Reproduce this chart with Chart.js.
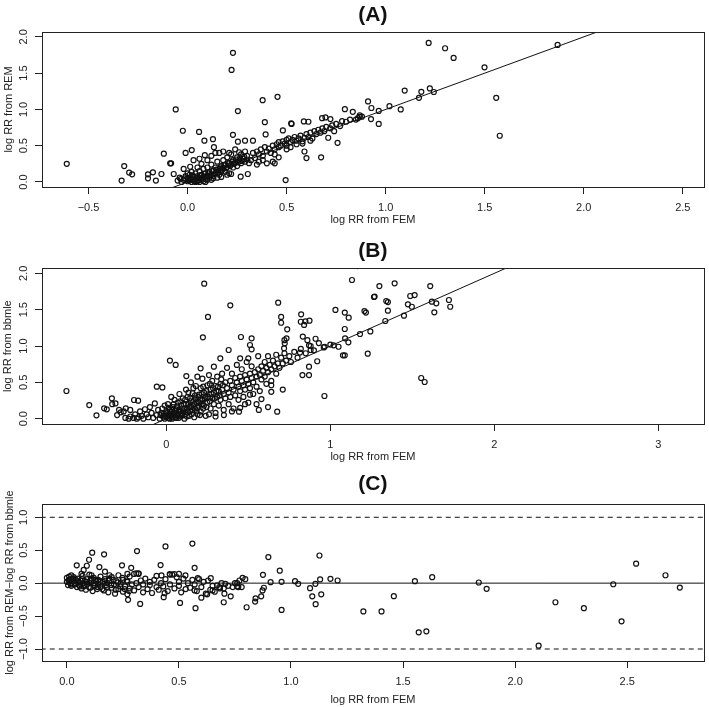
<!DOCTYPE html>
<html>
<head>
<meta charset="utf-8">
<title>log RR comparison</title>
<script src="https://cdn.jsdelivr.net/npm/chart.js@4.4.1/dist/chart.umd.min.js"></script>
<style>
  body { margin: 0; background: #fff; }
  #wrap { position: relative; width: 709px; height: 707px; }
  canvas { position: absolute; left: 0; }
</style>
</head>
<body>
<div id="wrap">
  <canvas id="chartA" width="709" height="236" style="top:0px"></canvas>
  <canvas id="chartB" width="709" height="235" style="top:236px"></canvas>
  <canvas id="chartC" width="709" height="236" style="top:471px"></canvas>
</div>
<script>
// ── data ──────────────────────────────────────────────────────────────────
// [log RR from FEM, log RR from REM]
const femVsRem = [
  [-0.61,0.25],[-0.32,0.22],[-0.333,0.02],[-0.295,0.13],[-0.28,0.105],[-0.20,0.105],[-0.20,0.05],
  [-0.175,0.133],[-0.16,0.02],[-0.132,0.11],[-0.12,0.39],[-0.088,0.257],[-0.083,0.257],[-0.06,1.0],
  [-0.07,0.11],[-0.024,0.706],[-0.01,0.40],[0.021,0.44],[0.013,0.21],[0.058,0.69],[0.085,0.57],
  [0.128,0.59],[0.087,0.37],[0.133,0.48],[0.229,1.78],[0.222,1.545],[0.254,0.977],[0.229,0.65],
  [0.379,1.128],[0.454,1.174],[0.39,0.825],[0.394,0.656],[0.268,0.073],[0.304,0.11],[0.29,0.57],
  [0.33,0.57],[0.254,0.555],[0.495,0.027],[0.523,0.807],[0.525,0.80],[0.587,0.835],[0.61,0.83],
  [0.59,0.42],[0.60,0.33],[0.481,0.71],[0.674,0.34],[0.679,0.88],[0.696,0.89],[0.721,0.867],
  [0.794,1.004],[0.834,0.967],[0.757,0.54],[0.74,0.70],[0.71,0.61],[0.40,0.257],[0.44,0.257],
  [1.217,1.916],[1.30,1.843],[1.343,1.71],[1.499,1.58],[1.868,1.889],[1.558,1.16],[1.576,0.637],
  [1.096,1.26],[1.18,1.243],[1.223,1.29],[1.243,1.24],[1.168,1.16],[1.076,1.0],[1.019,1.045],
  [0.965,0.98],[0.911,1.11],[0.928,1.02],[0.926,0.867],[0.965,0.80],[0.869,0.92],[0.869,0.90],
  [0.86,0.88],
  [0.30,0.36],[0.32,0.30],[0.33,0.40],[0.34,0.33],[0.35,0.42],[0.36,0.38],[0.37,0.45],[0.38,0.36],
  [0.39,0.48],[0.40,0.42],[0.41,0.46],[0.42,0.40],[0.43,0.50],[0.44,0.45],[0.45,0.52],[0.46,0.48],
  [0.46,0.55],[0.47,0.50],[0.48,0.56],[0.49,0.53],[0.50,0.58],[0.50,0.50],[0.51,0.60],[0.52,0.55],
  [0.53,0.58],[0.54,0.62],[0.55,0.57],[0.56,0.60],[0.57,0.64],[0.58,0.56],[0.59,0.61],[0.60,0.66],
  [0.61,0.62],[0.62,0.68],[0.63,0.60],[0.64,0.70],[0.65,0.66],[0.66,0.72],[0.67,0.68],[0.68,0.74],
  [0.69,0.70],[0.70,0.76],[0.72,0.74],[0.73,0.78],[0.75,0.80],[0.77,0.77],[0.78,0.84],[0.80,0.83],
  [0.82,0.86],[0.85,0.86],[0.88,0.90],[0.43,0.28],[0.46,0.34],[0.50,0.45],[0.52,0.48],[0.55,0.52],
  [0.58,0.53],[0.62,0.57],[0.44,0.38],[0.38,0.30],[0.36,0.28],[0.35,0.24],[0.31,0.26],
  [-0.05,0.02],[-0.04,0.06],[-0.03,0.0],[-0.02,0.03],[-0.01,0.08],[0.0,0.01],[0.0,0.05],[0.01,0.02],
  [0.01,0.10],[0.02,0.04],[0.02,0.0],[0.03,0.07],[0.03,0.02],[0.04,0.12],[0.04,0.04],[0.05,0.01],
  [0.05,0.08],[0.06,0.05],[0.06,0.15],[0.07,0.03],[0.07,0.10],[0.08,0.07],[0.08,0.18],[0.09,0.04],
  [0.09,0.12],[0.10,0.08],[0.10,0.20],[0.11,0.06],[0.11,0.14],[0.12,0.10],[0.12,0.24],[0.13,0.16],
  [0.13,0.08],[0.14,0.12],[0.14,0.20],[0.15,0.14],[0.15,0.28],[0.16,0.18],[0.16,0.10],[0.17,0.22],
  [0.17,0.15],[0.18,0.19],[0.18,0.30],[0.19,0.24],[0.19,0.14],[0.20,0.21],[0.20,0.34],[0.21,0.26],
  [0.21,0.12],[0.22,0.24],[0.22,0.38],[0.23,0.30],[0.23,0.20],[0.24,0.27],[0.25,0.34],[0.25,0.22],
  [0.26,0.30],[0.27,0.38],[0.27,0.26],[0.28,0.32],[0.29,0.42],[0.29,0.28],[0.30,0.31],[0.02,0.14],
  [0.05,0.20],[0.07,0.25],[0.10,0.30],[0.12,0.36],[0.16,0.40],[0.18,0.42],[0.20,0.10],[0.22,0.11],
  [0.09,0.0],[0.12,0.03],[0.15,0.06],[0.03,0.30],[0.06,0.32],[-0.02,0.18],[0.14,0.40],[0.17,0.07],
  [0.08,0.01],[0.0,0.12],[0.26,0.41],[0.24,0.45],[0.21,0.40],
  [0.015,0.06],[0.025,0.09],[0.035,0.01],[0.045,0.06],[0.055,0.03],[0.065,0.09],[0.075,0.06],
  [0.085,0.11],[0.095,0.08],[0.105,0.12],[0.115,0.09],[0.125,0.15],[0.135,0.11],[0.145,0.17],
  [0.155,0.13],[0.165,0.2],[0.175,0.17],[0.185,0.23],[0.195,0.19],[0.205,0.26],[0.215,0.22],
  [0.225,0.28],[0.235,0.25],[0.245,0.31],[0.255,0.27],[0.265,0.33],[0.275,0.29],[0.285,0.35],
  [0.04,0.0],[0.06,0.0],[0.1,0.03],[0.13,0.05],[-0.035,0.04],[-0.015,0.05],[0.005,0.03]
];

// [log RR from FEM, log RR from bbmle]
const femVsBbmle = [
  [-0.609,0.381],[-0.47,0.188],[-0.426,0.047],[-0.379,0.143],[-0.363,0.129],[-0.332,0.28],[-0.33,0.20],
  [-0.31,0.21],[-0.288,0.12],[-0.278,0.088],[-0.247,0.143],[-0.197,0.257],[-0.172,0.248],[-0.058,0.44],
  [-0.024,0.43],[0.022,0.80],[0.057,0.74],[0.231,1.857],[0.39,1.56],[0.254,1.40],[0.223,1.12],
  [0.455,1.124],[0.52,1.106],[0.51,1.014],[0.52,0.955],[0.38,0.945],[0.329,0.83],[0.45,0.83],
  [0.50,0.83],[0.29,0.715],[0.209,0.693],[0.189,0.578],[0.122,0.587],[0.682,1.596],[0.70,1.40],
  [0.70,1.32],[0.737,1.23],[0.722,1.037],[0.72,1.08],[0.822,1.436],[0.82,1.334],[0.848,1.34],
  [0.873,1.348],[0.676,0.097],[0.964,0.312],[1.031,1.496],[1.088,1.46],[1.112,1.39],[1.132,1.908],
  [1.077,0.872],[1.088,0.872],[1.088,1.234],[1.05,0.99],[0.87,0.715],[0.87,0.60],[0.83,0.60],
  [0.91,1.10],[0.733,1.105],[0.718,0.968],[0.84,1.29],[0.832,1.13],[0.86,1.08],[0.87,1.01],
  [0.815,0.91],[0.88,0.945],[0.92,0.79],[0.965,0.99],[1.02,1.01],[1.09,1.105],[1.11,1.05],
  [1.299,1.825],[1.392,1.862],[1.609,1.825],[1.266,1.674],[1.27,1.68],[1.341,1.619],[1.351,1.605],
  [1.351,1.486],[1.487,1.688],[1.514,1.70],[1.473,1.573],[1.497,1.54],[1.619,1.61],[1.646,1.587],
  [1.634,1.463],[1.723,1.633],[1.731,1.54],[1.208,1.48],[1.217,1.46],[1.449,1.417],[1.335,1.344],
  [1.244,1.20],[1.181,1.165],[1.228,0.894],[1.554,0.56],[1.575,0.505],[1.165,2.1],
  [-0.25,0.01],[-0.23,0.0],[-0.22,0.03],[-0.2,0.01],[-0.19,0.06],[-0.18,0.0],[-0.17,0.02],[-0.16,0.1],
  [-0.15,0.04],[-0.14,0.0],[-0.13,0.13],[-0.12,0.06],[-0.11,0.02],[-0.1,0.16],[-0.09,0.08],[-0.08,0.01],
  [-0.07,0.21],[-0.06,0.05],[-0.05,0.12],[-0.04,0.0],[-0.03,0.08],[-0.02,0.03],[-0.01,0.18],[-0.01,0.0],
  [-0.22,0.12],[-0.26,0.1],[-0.3,0.05],
  [0.0,0.02],[0.0,0.1],[0.01,0.05],[0.01,0.2],[0.02,0.0],[0.02,0.12],[0.03,0.06],[0.03,0.3],
  [0.04,0.02],[0.04,0.16],[0.05,0.08],[0.05,0.26],[0.06,0.01],[0.06,0.13],[0.07,0.05],[0.07,0.22],
  [0.08,0.1],[0.08,0.34],[0.09,0.03],[0.09,0.18],[0.1,0.07],[0.1,0.28],[0.11,0.14],[0.11,0.0],
  [0.12,0.2],[0.12,0.4],[0.13,0.09],[0.13,0.3],[0.14,0.16],[0.14,0.04],[0.15,0.24],[0.15,0.5],
  [0.16,0.12],[0.16,0.35],[0.17,0.2],[0.17,0.02],[0.18,0.28],[0.18,0.45],[0.19,0.15],[0.19,0.06],
  [0.2,0.33],[0.2,0.22],[0.21,0.1],[0.21,0.42],[0.22,0.27],[0.22,0.55],[0.23,0.18],[0.23,0.36],
  [0.24,0.04],[0.24,0.3],[0.25,0.46],[0.25,0.22],[0.26,0.34],[0.26,0.6],[0.27,0.14],[0.27,0.4],
  [0.28,0.28],[0.28,0.52],[0.29,0.2],[0.29,0.36],[0.3,0.45],[0.3,0.08],[0.31,0.3],[0.31,0.58],
  [0.32,0.38],[0.32,0.18],[0.33,0.48],[0.33,0.26],[0.34,0.4],[0.34,0.62],[0.35,0.34],[0.35,0.12],
  [0.36,0.5],[0.36,0.28],[0.37,0.42],[0.37,0.7],[0.38,0.36],[0.38,0.2],[0.39,0.52],[0.39,0.3],
  [0.4,0.46],[0.4,0.62],[0.41,0.4],[0.41,0.14],[0.42,0.56],[0.42,0.32],[0.43,0.5],[0.43,0.74],
  [0.44,0.44],[0.44,0.26],[0.45,0.58],[0.45,0.38],[0.46,0.52],[0.46,0.68],[0.47,0.46],[0.47,0.3],
  [0.48,0.6],[0.48,0.4],[0.49,0.54],[0.49,0.78],[0.5,0.48],[0.5,0.22],[0.51,0.62],[0.51,0.42],
  [0.52,0.56],[0.52,0.72],[0.53,0.5],[0.53,0.34],[0.54,0.64],[0.55,0.58],[0.55,0.44],[0.56,0.68],
  [0.56,0.86],[0.57,0.6],[0.57,0.38],[0.58,0.72],[0.58,0.54],[0.59,0.66],[0.6,0.58],[0.6,0.78],
  [0.61,0.7],[0.61,0.48],[0.62,0.64],[0.62,0.86],[0.63,0.74],[0.64,0.68],[0.64,0.52],[0.65,0.8],
  [0.66,0.72],[0.67,0.62],[0.67,0.88],[0.68,0.76],[0.69,0.7],[0.7,0.84],[0.71,0.76],[0.72,0.9],
  [0.73,0.8],[0.75,0.86],[0.76,0.78],[0.78,0.92],[0.8,0.84],[0.82,0.96],[0.85,0.9],[0.88,1.0],
  [0.9,0.94],[0.93,1.04],[0.96,0.98],[1.0,1.02],
  [0.564,0.12],[0.62,0.16],[0.443,0.097],[0.351,0.05],[0.30,0.03],[0.26,0.06],[0.55,0.2],[0.58,0.27],
  [0.51,0.33],[0.64,0.37],[0.71,0.40],[0.64,0.46],[0.45,0.15],[0.4,0.1],[0.48,0.2],
  [-0.035,0.05],[-0.025,0.14],[-0.015,0.07],[-0.005,0.04],[0.005,0.08],[0.015,0.01],[0.015,0.15],
  [0.025,0.04],[0.025,0.09],[0.035,0.12],[0.035,0.0],[0.045,0.05],[0.045,0.2],[0.055,0.11],
  [0.055,0.02],[0.065,0.07],[0.065,0.17],[0.075,0.12],[0.075,0.01],[0.085,0.06],[0.085,0.24],
  [0.095,0.14],[0.095,0.05],[0.105,0.1],[0.105,0.2],[0.115,0.06],[0.115,0.26],[0.125,0.12],
  [0.125,0.03],[0.135,0.2],[0.135,0.36],[0.145,0.1],[0.145,0.28],[0.155,0.16],[0.155,0.06],
  [0.165,0.24],[0.165,0.42],[0.175,0.14],[0.175,0.32],[0.185,0.22],[0.185,0.1],[0.195,0.3],
  [0.195,0.18],[0.205,0.26],[0.205,0.05],[0.215,0.34],[0.215,0.2],[0.225,0.14],[0.225,0.44],
  [0.235,0.28],[0.245,0.38],[0.245,0.16],[0.255,0.3],[0.265,0.24],[0.265,0.48],[0.275,0.34],
  [0.285,0.42],[0.295,0.28],[0.305,0.38],[0.315,0.44],[0.325,0.32],[0.335,0.54],[0.345,0.46]
];

// [log RR from FEM, log RR from REM − log RR from bbmle]
const femVsDiff = [
  [2.105,-0.95],[2.18,-0.29],[2.307,-0.38],[1.838,0.01],[1.873,-0.086],[1.63,0.09],[1.553,0.03],
  [1.57,-0.746],[1.604,-0.731],[1.459,-0.198],[1.404,-0.43],[1.323,-0.43],[1.208,0.04],[1.176,0.066],
  [1.127,0.42],[1.13,0.056],[1.135,-0.17],[1.11,-0.32],[1.095,-0.2],[1.109,-0.01],[1.085,-0.076],
  [1.032,-0.01],[1.018,0.03],[0.958,-0.406],[0.958,0.02],[0.95,0.19],[0.899,0.396],[0.909,0.015],
  [0.879,-0.07],[0.873,-0.11],[0.867,-0.2],[0.875,0.127],[0.842,-0.23],[0.84,-0.28],[0.802,-0.366],
  [0.796,0.06],[0.784,0.08],[0.76,0.0],[0.765,-0.06],[0.731,-0.2],[0.703,-0.16],[0.70,-0.29],
  [0.707,-0.01],[0.67,-0.035],[0.683,-0.08],[0.65,-0.11],[0.642,0.076],[0.626,-0.17],[0.6,-0.22],
  [0.584,0.076],[0.57,-0.11],[0.574,-0.38],[0.56,0.6],[0.57,0.233],[0.529,0.117],[0.505,-0.3],
  [0.5,0.14],[0.44,0.558],[0.436,-0.152],[0.418,0.274],[0.432,-0.213],[0.422,0.117],[0.459,0.137],
  [0.479,0.137],[0.327,-0.315],[0.313,0.487],[0.287,0.233],[0.273,-0.254],[0.246,0.27],[0.27,0.14],
  [0.31,0.15],[0.32,0.15],[0.166,0.437],[0.145,0.244],[0.113,0.462],[0.099,0.355],[0.089,0.264],
  [0.075,0.2],[0.065,0.14],[0.044,0.27],[0.02,0.117],[0.025,0.066],[0.17,0.175],[0.11,0.12],
  [0.19,0.12],[2.438,-0.017],[2.54,0.296],[2.475,-0.579],[2.671,0.12],[2.735,-0.068],
  [0.0,0.08],[0.0,0.02],[0.005,-0.03],[0.01,0.05],[0.01,0.1],[0.015,0.0],[0.02,0.06],[0.02,-0.04],
  [0.03,0.03],[0.03,0.09],[0.035,-0.02],[0.04,0.05],[0.045,-0.06],[0.05,0.01],[0.05,0.07],[0.055,-0.03],
  [0.06,0.04],[0.065,-0.08],[0.07,0.0],[0.07,0.11],[0.075,-0.05],[0.08,0.03],[0.085,-0.1],[0.09,0.06],
  [0.09,-0.02],[0.1,0.01],[0.1,0.13],[0.105,-0.07],[0.11,0.04],[0.115,-0.12],[0.12,0.0],[0.12,0.08],
  [0.125,-0.04],[0.13,0.03],[0.135,-0.09],[0.14,0.05],[0.14,-0.01],[0.15,0.1],[0.15,-0.06],[0.16,0.02],
  [0.165,-0.11],[0.17,0.06],[0.175,-0.03],[0.18,0.0],[0.185,-0.14],[0.19,0.04],[0.2,-0.07],[0.2,0.09],
  [0.21,-0.02],[0.215,-0.16],[0.22,0.03],[0.23,-0.09],[0.23,0.12],[0.24,-0.01],[0.25,-0.13],[0.25,0.05],
  [0.26,-0.05],[0.27,0.02],[0.27,-0.17],[0.28,-0.08],[0.28,0.1],[0.29,-0.02],[0.3,0.14],[0.3,-0.11],
  [0.31,0.0],[0.32,-0.06],[0.32,0.14],[0.33,0.04],[0.34,-0.14],[0.34,-0.02],[0.35,0.07],[0.36,-0.09],
  [0.37,-0.03],[0.37,0.02],[0.38,-0.15],[0.39,0.05],[0.4,-0.06],[0.4,0.11],[0.41,-0.1],[0.42,0.0],
  [0.43,-0.05],[0.44,0.06],[0.45,-0.12],[0.46,0.13],[0.46,-0.02],[0.47,0.13],[0.48,-0.08],[0.49,0.09],
  [0.5,-0.04],[0.5,0.02],[0.51,-0.14],[0.52,0.07],[0.53,-0.09],[0.54,0.0],[0.55,-0.07],[0.56,0.05],
  [0.57,-0.02],[0.58,-0.12],[0.59,0.06],[0.6,-0.06],[0.61,0.02],[0.62,-0.16],[0.63,0.04],[0.64,-0.1],
  [0.65,-0.04],[0.66,-0.13],[0.68,-0.06],[0.69,0.0],[0.7,-0.08],[0.72,-0.04],[0.74,-0.06],[0.75,0.0],
  [0.76,-0.05],[0.77,0.04],[0.78,-0.06],
  [0.008,0.04],[0.018,-0.02],[0.028,0.07],[0.038,0.0],[0.048,0.03],[0.058,-0.05],[0.068,0.06],
  [0.078,-0.03],[0.088,0.02],[0.098,-0.06],[0.108,0.07],[0.118,-0.03],[0.128,0.05],[0.138,-0.06],
  [0.148,0.02],[0.158,-0.09],[0.168,0.03],[0.178,-0.06],[0.188,0.07],[0.198,-0.03],[0.208,0.05],
  [0.218,-0.1],[0.228,0.01],[0.238,-0.05],[0.248,0.08],[0.258,-0.09],[0.268,0.04],[0.278,-0.12]
];

// reference lines: identity (A, B), zero and ±1 (C)
const identityLine = [[-1, -1], [3.5, 3.5]];
const zeroLine = [[-1, 0], [3.5, 0]];
const upperLimit = [[-1, 1], [3.5, 1]];
const lowerLimit = [[-1, -1], [3.5, -1]];

// tick values
const ticksAx = [-0.5, 0, 0.5, 1, 1.5, 2, 2.5];
const ticksAy = [0, 0.5, 1, 1.5, 2];
const ticksBx = [0, 1, 2, 3];
const ticksBy = [0, 0.5, 1, 1.5, 2];
const ticksCx = [0, 0.5, 1, 1.5, 2, 2.5];
const ticksCy = [-1, -0.5, 0, 0.5, 1];

// ── shared style ──────────────────────────────────────────────────────────
const FONT = '"Liberation Sans", Arial, Helvetica, sans-serif';
const INK = '#222';

const toXY = arr => arr.map(([x, y]) => ({ x, y }));

function fmt(v, dec) {
  const s = Math.abs(v).toFixed(dec);
  return v < 0 ? '\u2212' + s : s;
}

// R-style box round the plot region
const plotBox = {
  id: 'plotBox',
  afterDatasetsDraw(chart) {
    const { ctx, chartArea: a } = chart;
    ctx.save();
    ctx.strokeStyle = INK;
    ctx.lineWidth = 1;
    ctx.strokeRect(Math.round(a.left) + 0.5, Math.round(a.top) + 0.5,
      Math.round(a.right - a.left), Math.round(a.bottom - a.top));
    ctx.restore();
  }
};

function refLine(points, dash) {
  return {
    data: toXY(points),
    showLine: true,
    borderColor: '#111',
    borderWidth: 1,
    borderDash: dash || [],
    pointRadius: 0,
    clip: 0
  };
}

// ── one panel ─────────────────────────────────────────────────────────────
function makePanel(id, p) {
  return new Chart(document.getElementById(id), {
    type: 'scatter',
    data: {
      datasets: [
        {
          data: toXY(p.points),
          pointStyle: 'circle',
          pointRadius: 2.5,
          borderWidth: 1.2,
          borderColor: '#111',
          backgroundColor: 'rgba(0,0,0,0)'
        },
        ...p.lines
      ]
    },
    options: {
      responsive: false,
      animation: false,
      events: [],
      layout: { padding: { left: 0, right: 3, top: 0, bottom: 0 } },
      plugins: {
        legend: { display: false },
        tooltip: { enabled: false },
        title: {
          display: true,
          text: p.title,
          fullSize: false,
          color: '#111',
          font: { family: FONT, size: 21, weight: 'bold', lineHeight: 1.2 },
          padding: p.titlePad
        }
      },
      scales: {
        x: {
          type: 'linear',
          min: p.xMin,
          max: p.xMax,
          afterBuildTicks: s => { s.ticks = p.xTicks.map(v => ({ value: v })); },
          afterFit: s => { s.height = p.xAxisH; },
          border: { display: false },
          grid: { drawOnChartArea: false, drawTicks: true, tickLength: 7, color: INK },
          ticks: {
            color: INK, font: { family: FONT, size: 11 }, padding: p.xTickPad,
            maxRotation: 0, autoSkip: false, callback: v => fmt(v, p.xDec)
          },
          title: {
            display: true, text: 'log RR from FEM', color: INK,
            font: { family: FONT, size: 11, lineHeight: 1.2 },
            padding: { top: 0, bottom: p.xTitlePad }
          }
        },
        y: {
          type: 'linear',
          min: p.yMin,
          max: p.yMax,
          afterBuildTicks: s => { s.ticks = p.yTicks.map(v => ({ value: v })); },
          afterFit: s => { s.width = 42; },
          border: { display: false },
          grid: { drawOnChartArea: false, drawTicks: true, tickLength: 7, color: INK },
          ticks: {
            color: INK, font: { family: FONT, size: 11 }, padding: p.yTickPad,
            minRotation: 90, maxRotation: 90, crossAlign: 'center', autoSkip: false,
            callback: v => fmt(v, 1)
          },
          title: {
            display: true, text: p.yTitle, color: INK,
            font: { family: FONT, size: 11, lineHeight: 1.2 },
            padding: { top: p.yTitlePad, bottom: 0 }
          }
        }
      }
    },
    plugins: [plotBox]
  });
}

makePanel('chartA', {
  title: '(A)', titlePad: { top: 2.4, bottom: 4.4 },
  points: femVsRem, lines: [refLine(identityLine)],
  xMin: -0.735, xMax: 2.606, xTicks: ticksAx, xDec: 1, xAxisH: 49, xTickPad: 7.5, xTitlePad: 9.4,
  yMin: -0.069, yMax: 2.067, yTicks: ticksAy, yTickPad: 3, yTitle: 'log RR from REM', yTitlePad: 1.9
});

makePanel('chartB', {
  title: '(B)', titlePad: { top: 3.1, bottom: 4 },
  points: femVsBbmle, lines: [refLine(identityLine)],
  xMin: -0.758, xMax: 3.277, xTicks: ticksBx, xDec: 0, xAxisH: 47, xTickPad: 7.4, xTitlePad: 7.7,
  yMin: -0.073, yMax: 2.069, yTicks: ticksBy, yTickPad: 3, yTitle: 'log RR from bbmle', yTitlePad: 1.7
});

makePanel('chartC', {
  title: '(C)', titlePad: { top: 0.5, bottom: 7.6 },
  points: femVsDiff,
  lines: [refLine(zeroLine), refLine(upperLimit, [5, 4]), refLine(lowerLimit, [5, 4])],
  xMin: -0.111, xMax: 2.842, xTicks: ticksCx, xDec: 1, xAxisH: 46, xTickPad: 7, xTitlePad: 0,
  yMin: -1.182, yMax: 1.197, yTicks: ticksCy, yTickPad: 0,
  yTitle: 'log RR from REM\u2212log RR from bbmle', yTitlePad: 3.4
});
</script>
</body>
</html>
